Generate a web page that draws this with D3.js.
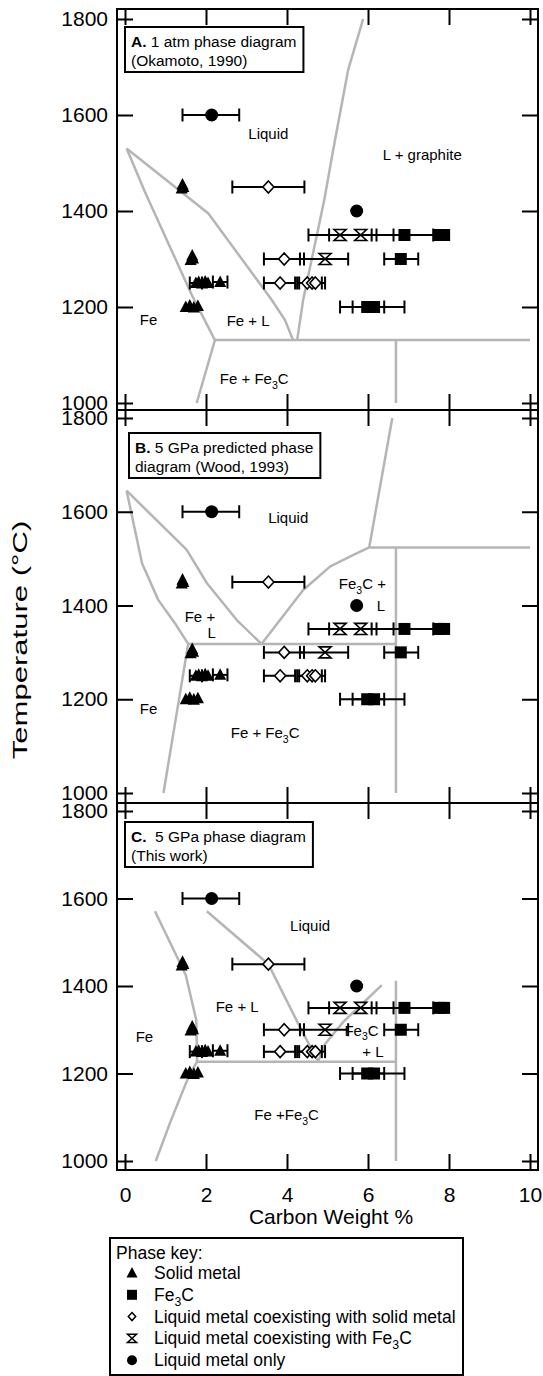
<!DOCTYPE html>
<html>
<head>
<meta charset="utf-8">
<script src="https://cdn.jsdelivr.net/npm/d3@7"></script>
<style>
body { margin: 0; background: #fff; }
text { font-family: "Liberation Sans", Arial, Helvetica, sans-serif; }
</style>
</head>
<body>
<svg id="chart" width="543" height="1376"></svg>
<script>

// ---- data (carbon wt %, temperature °C) ----
const xTicks = [0, 2, 4, 6, 8, 10]
const yTicks = [1000, 1200, 1400, 1600, 1800]

// experiments, same in all three panels. lo/hi = ends of the error bar
const solidMetal = [
    {c: 1.40, t: 1447}, {c: 1.42, t: 1455}, {c: 1.44, t: 1450},
    {c: 1.62, t: 1298}, {c: 1.66, t: 1307}, {c: 1.68, t: 1301},
    {c: 1.75, t: 1250, lo: 1.60, hi: 1.90}, {c: 1.82, t: 1252}, {c: 1.90, t: 1249},
    {c: 1.98, t: 1253}, {c: 2.05, t: 1250}, {c: 2.35, t: 1252, lo: 2.17, hi: 2.53},
    {c: 1.50, t: 1200}, {c: 1.60, t: 1203}, {c: 1.70, t: 1199}, {c: 1.80, t: 1202}
]
const fe3c = [
    {c: 6.90, t: 1350, lo: 6.21, hi: 7.61}, {c: 7.76, t: 1350}, {c: 7.88, t: 1350},
    {c: 6.81, t: 1300, lo: 6.40, hi: 7.24},
    {c: 5.98, t: 1200, lo: 5.31, hi: 6.40}, {c: 6.15, t: 1200, lo: 5.62, hi: 6.90}
]
const liquidWithSolid = [
    {c: 3.54, t: 1450, lo: 2.65, hi: 4.43},
    {c: 3.93, t: 1300, lo: 3.43, hi: 4.42},
    {c: 3.83, t: 1250, lo: 3.43, hi: 4.20}, {c: 4.50, t: 1250, lo: 4.25, hi: 4.86},
    {c: 4.62, t: 1250, lo: 4.30, hi: 4.94}, {c: 4.70, t: 1250}
]
const liquidWithFe3c = [
    {c: 5.31, t: 1350, lo: 4.53, hi: 6.09}, {c: 5.82, t: 1350, lo: 5.04, hi: 6.63},
    {c: 4.94, t: 1300, lo: 4.32, hi: 5.51}
]
const liquidOnly = [
    {c: 2.14, t: 1600, lo: 1.42, hi: 2.82}, {c: 5.72, t: 1400}
]

// phase boundaries
const linesA = [
    [[0.04, 1530], [2.06, 1395], [3.62, 1215], [3.95, 1173], [4.15, 1131]],
    [[0.04, 1530], [0.49, 1440], [1.65, 1225], [2.22, 1131]],
    [[2.22, 1131], [1.77, 1000]],
    [[2.22, 1131], [10, 1131]],
    [[6.69, 1131], [6.69, 1000]],
    [[4.25, 1131], [4.40, 1215], [4.92, 1423], [5.14, 1527], [5.51, 1694], [5.88, 1800]]
]
const linesB = [
    [[0.04, 1645], [1.52, 1519], [2.02, 1448], [2.76, 1369], [3.37, 1318]],
    [[0.04, 1645], [0.42, 1490], [0.82, 1412], [1.25, 1360], [1.56, 1318]],
    [[3.37, 1318], [4.40, 1433], [5.06, 1483], [5.64, 1508], [6.03, 1524]],
    [[6.03, 1524], [6.60, 1800]],
    [[6.03, 1524], [10, 1524]],
    [[6.69, 1524], [6.69, 1000]],
    [[1.56, 1318], [6.69, 1318]],
    [[1.56, 1318], [0.95, 1000]]
]
const linesC = [
    [[0.74, 1571], [1.50, 1425], [1.76, 1322], [1.78, 1227]],
    [[1.78, 1227], [1.58, 1195], [1.14, 1094], [0.76, 1000]],
    [[2.02, 1571], [3.54, 1450], [4.32, 1306], [4.77, 1227]],
    [[4.77, 1227], [4.92, 1265], [5.39, 1318], [6.34, 1402]],
    [[1.78, 1227], [6.69, 1227]],
    [[6.69, 1412], [6.69, 1000]]
]

// field labels: text, carbon, temperature ("_3" = subscript)
const labelsA = [["Liquid", 3.54, 1562], ["L + graphite", 7.34, 1517], ["Fe", 0.58, 1174],
    ["Fe + L", 3.04, 1171], ["Fe + Fe_3C", 3.19, 1050]]
const labelsB = [["Liquid", 4.03, 1588], ["Fe_3C +", 5.86, 1446], ["L", 6.32, 1400],
    ["Fe +", 1.85, 1376], ["L", 2.14, 1342], ["Fe", 0.58, 1181], ["Fe + Fe_3C", 3.46, 1128]]
const labelsC = [["Liquid", 4.57, 1537], ["Fe + L", 2.77, 1354], ["Fe", 0.48, 1284],
    ["Fe_3C", 5.84, 1298], ["+ L", 6.12, 1250], ["Fe +Fe_3C", 3.99, 1105]]

const titleA = ["A.", " 1 atm phase diagram", "(Okamoto, 1990)"]
const titleB = ["B.", " 5 GPa predicted phase", "diagram (Wood, 1993)"]
const titleC = ["C.", "\u00a0 5 GPa phase diagram", "(This work)"]

const legendTitle = "Phase key:"
const legendItems = [["tri", "Solid metal"], ["sq", "Fe_3C"],
    ["dia", "Liquid metal coexisting with solid metal"],
    ["hour", "Liquid metal coexisting with Fe_3C"], ["circ", "Liquid metal only"]]

// ---- layout ----
const left = 117, right = 538
const gray = "#b5b5b5"
const panels = [
    {top: 9, bottom: 410, y1800: 19, y1000: 403, lines: linesA, labels: labelsA, title: titleA, box: [8, 18]},
    {top: 410, bottom: 803, y1800: 418, y1000: 793, lines: linesB, labels: labelsB, title: titleB, box: [12, 23]},
    {top: 803, bottom: 1170, y1800: 811, y1000: 1161, lines: linesC, labels: labelsC, title: titleC, box: [8, 19]}
]

const shapes = {
    tri: s => `M0,${-s * 0.6}L${s * 0.55},${s * 0.45}L${-s * 0.55},${s * 0.45}Z`,
    sq: s => `M${-s / 2},${-s / 2}h${s}v${s}h${-s}Z`,
    dia: s => `M0,${-s / 2}L${s * 0.46},0L0,${s / 2}L${-s * 0.46},0Z`,
    hour: s => `M${-s / 2},${-s * 0.46}H${s / 2}L${-s / 2},${s * 0.46}H${s / 2}Z`,
    circ: s => { let r = s / 2; return `M${r},0A${r},${r} 0 1,1 ${-r},0A${r},${r} 0 1,1 ${r},0Z` }
}
const hollow = {dia: true, hour: true}

const series = [
    {shape: "tri", size: 11, pts: solidMetal},
    {shape: "sq", size: 12, pts: fe3c},
    {shape: "dia", size: 12, pts: liquidWithSolid},
    {shape: "hour", size: 12, pts: liquidWithFe3c},
    {shape: "circ", size: 13, pts: liquidOnly}
]

let svg = d3.select("#chart")

// text with "_3" subscripts
const richText = (sel, str, fs) => {
    let parts = str.split(/_(\d)/)
    parts.forEach((p, i) => {
        if (i % 2 === 1) {
            sel.append("tspan").attr("dy", fs * 0.28).attr("font-size", fs * 0.7).text(p)
        } else {
            let t = sel.append("tspan").text(p)
            if (i > 0) t.attr("dy", -fs * 0.28)
        }
    })
}

let x = d3.scaleLinear().domain([0, 10]).range([125, 530])

panels.forEach((p, pi) => {
    let y = d3.scaleLinear().domain([1000, 1800]).range([p.y1000, p.y1800])
    let g = svg.append("g")

    // phase boundaries
    let line = d3.line().x(d => x(d[0])).y(d => y(d[1]))
    g.selectAll(".phase")
        .data(p.lines)
        .enter()
        .append("path")
        .attr("d", line)
        .attr("fill", "none")
        .attr("stroke", gray)
        .attr("stroke-width", 2.5)
        .attr("stroke-linejoin", "round")

    // error bars
    series.forEach(s => {
        let withBars = s.pts.filter(d => d.lo !== undefined)
        let eb = g.selectAll(null).data(withBars).enter().append("g")
            .attr("stroke", "black").attr("stroke-width", 2)
        eb.append("line")
            .attr("x1", d => x(d.lo)).attr("x2", d => x(d.hi))
            .attr("y1", d => y(d.t)).attr("y2", d => y(d.t))
        eb.append("line")
            .attr("x1", d => x(d.lo)).attr("x2", d => x(d.lo))
            .attr("y1", d => y(d.t) - 6.5).attr("y2", d => y(d.t) + 6.5)
        eb.append("line")
            .attr("x1", d => x(d.hi)).attr("x2", d => x(d.hi))
            .attr("y1", d => y(d.t) - 6.5).attr("y2", d => y(d.t) + 6.5)
    })

    // markers
    series.forEach(s => {
        g.selectAll(null).data(s.pts).enter()
            .append("path")
            .attr("d", shapes[s.shape](s.size))
            .attr("transform", d => "translate(" + x(d.c) + "," + y(d.t) + ")")
            .attr("fill", hollow[s.shape] ? "white" : "black")
            .attr("stroke", hollow[s.shape] ? "black" : "none")
            .attr("stroke-width", 1.6)
    })

    // field labels
    p.labels.forEach(l => {
        let t = g.append("text")
            .attr("x", x(l[1]))
            .attr("y", y(l[2]) + 15 * 0.36)
            .attr("text-anchor", "middle")
            .attr("font-size", 15)
        richText(t, l[0], 15)
    })

    // title box
    let tb = g.append("g").attr("transform", "translate(" + (left + p.box[0]) + "," + (p.top + p.box[1]) + ")")
    let rect = tb.append("rect").attr("fill", "white").attr("stroke", "black").attr("stroke-width", 2)
    let t1 = tb.append("text").attr("x", 6).attr("y", 19.5).attr("font-size", 15.5)
    t1.append("tspan").attr("font-weight", "bold").text(p.title[0])
    t1.append("tspan").text(p.title[1])
    let t2 = tb.append("text").attr("x", 6).attr("y", 38.5).attr("font-size", 15.5).text(p.title[2])
    let w = Math.max(t1.node().getComputedTextLength(), t2.node().getComputedTextLength())
    rect.attr("width", w + 13).attr("height", 45)

    // frame
    g.append("rect")
        .attr("x", left).attr("y", p.top)
        .attr("width", right - left).attr("height", p.bottom - p.top)
        .attr("fill", "none").attr("stroke", "black").attr("stroke-width", 2)

    // ticks on all four sides, pointing inward
    let axes = [
        [d3.axisTop(x).tickValues(xTicks), "translate(0," + p.top + ")", false],
        [d3.axisBottom(x).tickValues(xTicks).tickPadding(17), "translate(0," + p.bottom + ")", pi === 2],
        [d3.axisLeft(y).tickValues(yTicks).tickPadding(9), "translate(" + left + ",0)", true],
        [d3.axisRight(y).tickValues(yTicks), "translate(" + right + ",0)", false]
    ]
    axes.forEach(a => {
        let ax = a[0].tickSize(-16).tickSizeOuter(0)
        ax.tickFormat(a[2] ? d3.format("d") : "")
        let ag = g.append("g").attr("transform", a[1]).call(ax)
            .attr("font-size", 21)
            .attr("font-family", "'Liberation Sans', Arial, sans-serif")
        ag.select(".domain").remove()
        ag.selectAll(".tick line").attr("stroke-width", 2)
        ag.selectAll(".tick text").attr("fill", "black")
    })
})

// axis titles (the y title is drawn stretched along its length, as in the source figure)
svg.append("text")
    .attr("transform", "translate(27,640) rotate(-90) scale(1.48,1)")
    .attr("text-anchor", "middle")
    .attr("font-size", 21)
    .text("Temperature (°C)")

svg.append("text")
    .attr("x", 331)
    .attr("y", 1224)
    .attr("text-anchor", "middle")
    .attr("font-size", 21)
    .text("Carbon Weight %")

// legend
let lg = svg.append("g")
lg.append("rect")
    .attr("x", 110).attr("y", 1238)
    .attr("width", 353).attr("height", 137)
    .attr("fill", "white").attr("stroke", "black").attr("stroke-width", 2)
lg.append("text").attr("x", 116).attr("y", 1259).attr("font-size", 17.5).text(legendTitle)

let items = lg.selectAll(".item").data(legendItems).enter().append("g")
    .attr("transform", (d, i) => "translate(0," + (1279 + i * 21.8) + ")")
items.append("path")
    .attr("d", d => shapes[d[0]](d[0] === "dia" ? 8 : d[0] === "hour" ? 9 : 10))
    .attr("transform", "translate(132,-6)")
    .attr("fill", d => hollow[d[0]] ? "white" : "black")
    .attr("stroke", d => hollow[d[0]] ? "black" : "none")
    .attr("stroke-width", 1.5)
items.each(function (d) {
    let t = d3.select(this).append("text").attr("x", 154).attr("y", 0).attr("font-size", 17.5)
    richText(t, d[1], 17.5)
})

</script>
</body>
</html>
